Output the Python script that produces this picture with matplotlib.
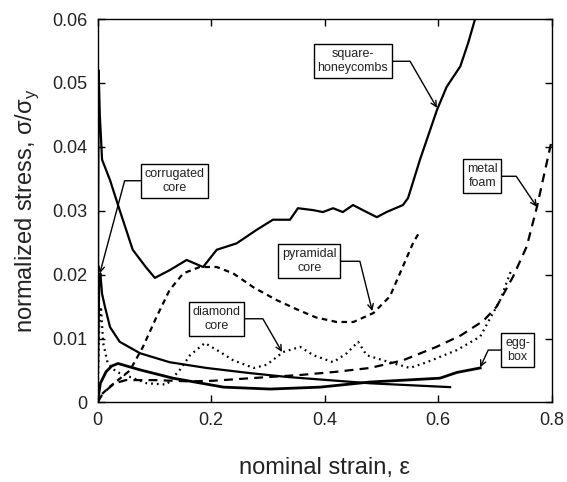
from matplotlib import pyplot as plt

plt.rcParams['font.family'] = ['Liberation Sans', 'DejaVu Sans']

# strain / normalized stress
square_x = [0, 0.002, 0.004, 0.008, 0.022, 0.039, 0.062, 0.085, 0.101, 0.127, 0.157, 0.186,
            0.21, 0.245, 0.28, 0.309, 0.339, 0.353, 0.38, 0.397, 0.415, 0.432, 0.45, 0.474,
            0.492, 0.509, 0.538, 0.547, 0.568, 0.598, 0.615, 0.639, 0.653, 0.665]
square_y = [0, 0.052, 0.045, 0.038, 0.0348, 0.0301, 0.0239, 0.0212, 0.0195, 0.0207, 0.0223, 0.0212,
            0.0239, 0.0249, 0.027, 0.0286, 0.0286, 0.0304, 0.0301, 0.0298, 0.0304, 0.0298, 0.0309, 0.0298,
            0.029, 0.0298, 0.0309, 0.032, 0.038, 0.0458, 0.0494, 0.0526, 0.0563, 0.06]

corr_x = [0, 0.003, 0.005, 0.008, 0.013, 0.022, 0.039, 0.075, 0.127, 0.192, 0.268, 0.333, 0.362, 0.48, 0.621]
corr_y = [0, 0.019, 0.0202, 0.017, 0.015, 0.0118, 0.0095, 0.0077, 0.0063, 0.0054, 0.0046, 0.004, 0.0038, 0.003, 0.0024]

egg_x = [0, 0.005, 0.015, 0.025, 0.036, 0.075, 0.133, 0.222, 0.304, 0.392, 0.48, 0.603, 0.633, 0.674]
egg_y = [0, 0.003, 0.0048, 0.0057, 0.0061, 0.0051, 0.0038, 0.0024, 0.0021, 0.0024, 0.0032, 0.0038, 0.0047, 0.0054]

pyr_x = [0, 0.004, 0.022, 0.057, 0.08, 0.104, 0.127, 0.151, 0.18, 0.21, 0.239, 0.275, 0.316,
         0.353, 0.385, 0.421, 0.451, 0.486, 0.515, 0.538, 0.556, 0.566]
pyr_y = [0, 0.001, 0.0025, 0.005, 0.0087, 0.0134, 0.0176, 0.0202, 0.0212, 0.0212, 0.0202, 0.018, 0.016,
         0.0145, 0.0133, 0.0126, 0.0126, 0.014, 0.0166, 0.0213, 0.025, 0.0265]

foam_x = [0, 0.01, 0.03, 0.05, 0.1, 0.163, 0.204, 0.27, 0.357, 0.42, 0.48, 0.538, 0.597, 0.64,
          0.68, 0.703, 0.732, 0.756, 0.774, 0.79, 0.8]
foam_y = [0, 0.0015, 0.003, 0.0035, 0.0035, 0.0033, 0.0034, 0.0038, 0.0043, 0.0048, 0.0054, 0.0066, 0.0087, 0.0105,
          0.0128, 0.015, 0.0197, 0.0244, 0.0306, 0.037, 0.041]

diamond_x = [0, 0.003, 0.006, 0.01, 0.018, 0.033, 0.057, 0.087, 0.122, 0.145, 0.163, 0.189, 0.216, 0.239,
             0.275, 0.298, 0.327, 0.357, 0.38, 0.415, 0.439, 0.459, 0.474, 0.503, 0.55, 0.58, 0.633, 0.674,
             0.709, 0.73]
diamond_y = [0, 0.012, 0.015, 0.0093, 0.0061, 0.0048, 0.004, 0.003, 0.0028, 0.0051, 0.0074, 0.0093, 0.0079, 0.0066,
             0.0054, 0.0059, 0.0079, 0.0087, 0.0074, 0.0063, 0.0077, 0.0095, 0.0074, 0.0066, 0.0054, 0.0063, 0.0082, 0.0103,
             0.016, 0.021]

xticks = [0, 0.2, 0.4, 0.6, 0.8]
xtick_labels = ['0', '0.2', '0.4', '0.6', '0.8']
yticks = [0, 0.01, 0.02, 0.03, 0.04, 0.05, 0.06]
ytick_labels = ['0', '0.01', '0.02', '0.03', '0.04', '0.05', '0.06']

# label text, box centre (data), arrow target (data), angle of last leg
labels = [
    ('corrugated\ncore', (0.136, 0.0347), (0.004, 0.0202), 75),
    ('square-\nhoneycombs', (0.45, 0.0534), (0.598, 0.0461), 120),
    ('metal\nfoam', (0.678, 0.0354), (0.774, 0.0306), 124),
    ('pyramidal\ncore', (0.373, 0.0221), (0.484, 0.0143), 104),
    ('diamond\ncore', (0.21, 0.0131), (0.325, 0.0079), 120),
    ('egg-\nbox', (0.74, 0.0082), (0.674, 0.0055), 65),
]

fig = plt.figure(figsize=(5.67, 4.82), dpi=100)
ax = fig.add_axes([0.172, 0.165, 0.801, 0.7954])

ax.plot(square_x, square_y, color='k', lw=1.6)
ax.plot(corr_x, corr_y, color='k', lw=1.6)
ax.plot(egg_x, egg_y, color='k', lw=2.0)
ax.plot(pyr_x, pyr_y, color='k', lw=1.6, dashes=(2.5, 2))
ax.plot(foam_x, foam_y, color='k', lw=1.6, dashes=(4, 2.8))
ax.plot(diamond_x, diamond_y, color='k', lw=1.6, dashes=(0.8, 1.8))

for txt, pos, tgt, ang in labels:
    ax.annotate(txt, xy=tgt, xytext=pos, ha='center', va='center', fontsize=9,
                linespacing=1.25, color='#222222',
                bbox=dict(boxstyle='square,pad=0.3', fc='white', ec='k', lw=1.0),
                arrowprops=dict(arrowstyle='->', color='k', lw=1.0, shrinkA=0, shrinkB=0,
                                mutation_scale=10,
                                connectionstyle='angle,angleA=0,angleB=%d,rad=0' % ang))

ax.set_xlim(0, 0.8)
ax.set_ylim(0, 0.06)
ax.set_xticks(xticks)
ax.set_xticklabels(xtick_labels)
ax.set_yticks(yticks)
ax.set_yticklabels(ytick_labels)
ax.tick_params(direction='in', top=True, right=True, length=5, width=1.0, labelsize=13, pad=7,
               labelcolor='#222222')
for s in ax.spines.values():
    s.set_linewidth(1.0)

ax.set_xlabel('nominal strain, ε', fontsize=17, labelpad=20, color='#222222')
ax.set_ylabel('normalized stress, σ/σ$_\\mathregular{y}$', fontsize=17, labelpad=8, color='#222222')

plt.savefig('out.png')
